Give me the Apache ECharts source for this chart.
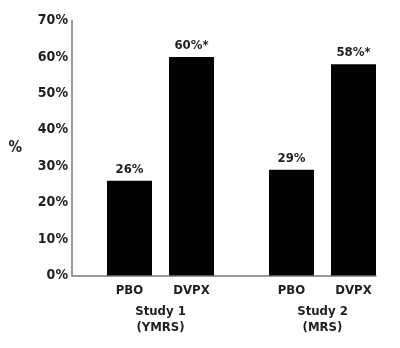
<!DOCTYPE html>
<html>
<head>
<meta charset="utf-8">
<script src="https://cdn.jsdelivr.net/npm/echarts@6/dist/echarts.min.js"></script>
<style>
html,body{margin:0;padding:0;background:#fff;}
#c{width:400px;height:348px;}
</style>
</head>
<body>
<div id="c"></div>
<script>
var treatments = ['PBO', 'DVPX'];
var studyNames = ['Study 1\n(YMRS)', 'Study 2\n(MRS)'];
var study1Values = [26, 60];
var study2Values = [29, 58];
var study1Labels = ['26%', '60%*'];
var study2Labels = ['29%', '58%*'];
var yTicks = [0, 10, 20, 30, 40, 50, 60, 70];

var FONT = '"Liberation Sans Narrow", "DejaVu Sans Condensed", "Roboto Condensed", sans-serif';
var TXT = '#1e1e1e';
var AXIS = '#7a7a7a';
var TOP = 20.5, BOTTOM = 72.5;
var yMin = yTicks[0], yMax = yTicks[yTicks.length - 1], yStep = yTicks[1] - yTicks[0];

function barGrid(left) {
  return { left: left, width: 124, top: TOP, bottom: BOTTOM, containLabel: false };
}
function barX(gridIndex, name) {
  return {
    type: 'category', gridIndex: gridIndex, data: treatments,
    axisLine: { show: false }, axisTick: { show: false },
    axisLabel: { color: TXT, fontFamily: FONT, fontWeight: 'bold', fontSize: 13, margin: 9 },
    name: name, nameLocation: 'middle', nameGap: 28,
    nameTextStyle: { color: TXT, fontFamily: FONT, fontWeight: 'bold', fontSize: 13, lineHeight: 16, verticalAlign: 'top' }
  };
}
function barY(gridIndex) {
  return { type: 'value', gridIndex: gridIndex, min: yMin, max: yMax, interval: yStep, show: false };
}
function barSeries(idx, values, labels) {
  return {
    type: 'bar', xAxisIndex: idx, yAxisIndex: idx, data: values, barWidth: 45,
    itemStyle: { color: '#030303' },
    label: {
      show: true, position: 'top', distance: 5,
      color: TXT, fontFamily: FONT, fontWeight: 'bold', fontSize: 13,
      formatter: function (p) { return labels[p.dataIndex]; }
    },
    silent: true, animation: false
  };
}

var chart = echarts.init(document.getElementById('c'), null, { renderer: 'canvas' });
chart.setOption({
  backgroundColor: '#ffffff',
  animation: false,
  grid: [
    { left: 72, right: 24, top: TOP, bottom: BOTTOM, containLabel: false },
    barGrid(98.5),
    barGrid(260.5)
  ],
  xAxis: [
    { type: 'value', gridIndex: 0, min: 0, max: 1, axisLine: { show: true, onZero: false, lineStyle: { color: AXIS, width: 1.5 } },
      axisTick: { show: false }, axisLabel: { show: false }, splitLine: { show: false } },
    barX(1, studyNames[0]),
    barX(2, studyNames[1])
  ],
  yAxis: [
    { type: 'value', gridIndex: 0, min: yMin, max: yMax, interval: yStep,
      axisLine: { show: true, lineStyle: { color: AXIS, width: 1.5 } },
      axisTick: { show: false }, splitLine: { show: false },
      axisLabel: { color: TXT, fontFamily: FONT, fontWeight: 'bold', fontSize: 14, margin: 4, formatter: '{value}%' },
      name: '%', nameLocation: 'middle', nameGap: 50, nameRotate: 0,
      nameTextStyle: { color: TXT, fontFamily: FONT, fontWeight: 'bold', fontSize: 15 } },
    barY(1),
    barY(2)
  ],
  series: [
    barSeries(1, study1Values, study1Labels),
    barSeries(2, study2Values, study2Labels)
  ]
});
</script>
</body>
</html>
